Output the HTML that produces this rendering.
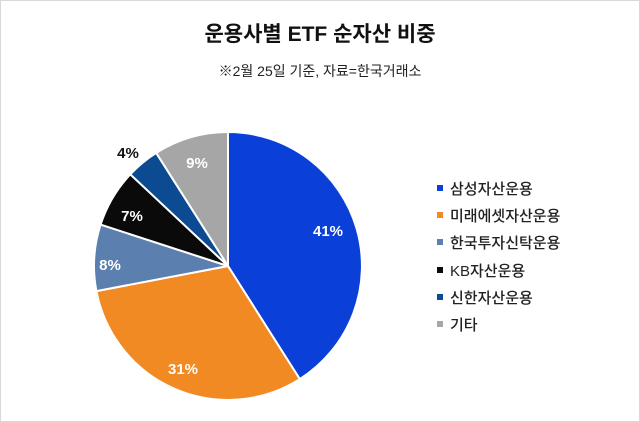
<!DOCTYPE html>
<html><head><meta charset="utf-8"><style>
body{margin:0;background:#fff;}
.wrap{position:relative;width:638px;height:420px;border:1px solid #d9d9d9;background:#fff;font-family:"Liberation Sans","Noto Sans CJK KR",sans-serif;}
.t{position:absolute;left:0;width:100%;text-align:center;color:#111;}
.lg{position:absolute;left:436px;font-size:15px;color:#222;font-weight:500;}
.lg span{display:inline-block;width:6px;height:6px;margin-right:7px;vertical-align:middle;position:relative;top:-2px;}
</style></head><body><div class="wrap">
<div class="t" style="top:17px;font-size:21px;font-weight:bold;">운용사별 ETF 순자산 비중</div>
<div class="t" style="top:60px;font-size:14px;color:#222;">※2월 25일 기준, 자료=한국거래소</div>
<svg width="640" height="422" style="position:absolute;left:-1px;top:-1px" font-family="Liberation Sans, Noto Sans CJK KR, sans-serif" font-size="15" font-weight="bold">
<g stroke="#fff" stroke-width="2">
<path d="M228 266 L228 132 A134 134 0 0 1 299.8 379.1 Z" fill="#0a40d8"/>
<path d="M228 266 L299.8 379.1 A134 134 0 0 1 96.4 291.1 Z" fill="#f28a24"/>
<path d="M228 266 L96.4 291.1 A134 134 0 0 1 100.6 224.6 Z" fill="#5b7fae"/>
<path d="M228 266 L100.6 224.6 A134 134 0 0 1 130.3 174.3 Z" fill="#0a0a0a"/>
<path d="M228 266 L130.3 174.3 A134 134 0 0 1 156.2 152.9 Z" fill="#0c4a92"/>
<path d="M228 266 L156.2 152.9 A134 134 0 0 1 228 132 Z" fill="#a6a6a6"/>
</g>
<g fill="#fff" text-anchor="middle">
<text x="328" y="236">41%</text>
<text x="183" y="374">31%</text>
<text x="110" y="270">8%</text>
<text x="132" y="221">7%</text>
<text x="197" y="168">9%</text>
</g>
<text x="128" y="158" text-anchor="middle" fill="#111">4%</text>
</svg>
<div class="lg" style="top:177px"><span style="background:#0a40d8"></span>삼성자산운용</div>
<div class="lg" style="top:204px"><span style="background:#f28a24"></span>미래에셋자산운용</div>
<div class="lg" style="top:231px"><span style="background:#5b7fae"></span>한국투자신탁운용</div>
<div class="lg" style="top:259px"><span style="background:#0a0a0a"></span>KB자산운용</div>
<div class="lg" style="top:286px"><span style="background:#0c4a92"></span>신한자산운용</div>
<div class="lg" style="top:313px"><span style="background:#a6a6a6"></span>기타</div>
</div></body></html>
